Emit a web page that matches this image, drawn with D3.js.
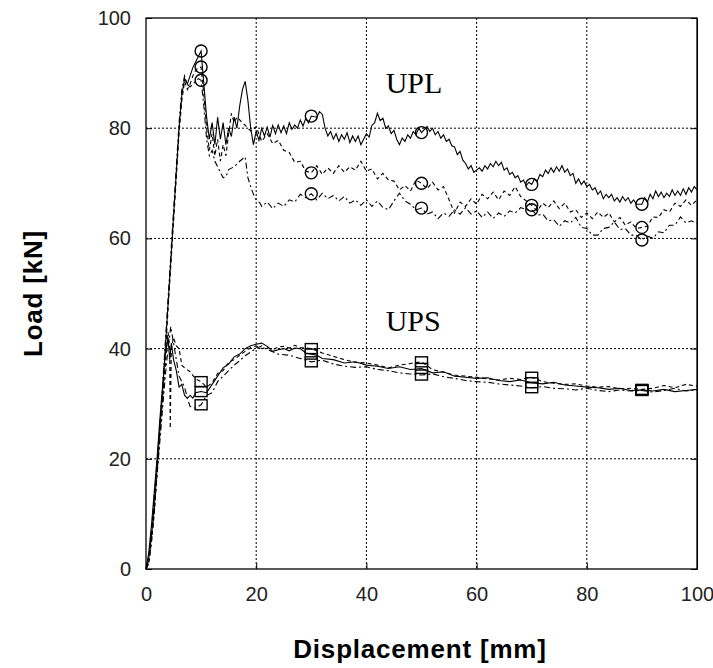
<!DOCTYPE html>
<html>
<head>
<meta charset="utf-8">
<script src="https://cdn.jsdelivr.net/npm/d3@7"></script>
<style>
  body { margin: 0; background: #fff; }
  svg text { font-family: "Liberation Sans", Arial, sans-serif; }
</style>
</head>
<body>
<div id="chart"></div>
<script>
// ticks
var xTicks = [0, 20, 40, 60, 80, 100];
var yTicks = [0, 20, 40, 60, 80, 100];
var markX = [10, 30, 50, 70, 90];

// UPL specimens (large)
var uplA = [[0,0],[0.5,2],[1,6],[1.5,11],[2,18],[2.5,25],[3,32],[3.5,40],[4,48],[4.5,56],[5,64],[5.5,72],[6,80],[6.5,86],[7,89],[7.5,88],[8,89.5],[8.5,91],[9,92],[9.5,93],[10,94],[10.5,88],[11,82],[11.5,78],[12,81],[12.5,77],[13,82],[13.5,78],[14,81],[14.5,77],[15,80],[15.5,78.5],[16,82],[16.5,80],[17,84],[17.5,87],[18,88.5],[18.5,85],[19,80],[19.5,77],[20,79.5],[20.5,77.8],[21,80],[21.5,78.6],[22,80.2],[22.5,78.4],[23,80.5],[23.5,79],[24,80.6],[24.5,79.2],[25,80.4],[25.5,79],[26,81],[26.5,79.8],[27,80.6],[27.5,80],[28,81.5],[28.5,80.4],[29,81.8],[29.5,81],[30,82.2],[31,82],[31.5,83],[32,82.5],[32.5,80],[33,78.6],[33.5,79.4],[34,78],[34.5,79],[35,77.6],[35.5,78.8],[36,78],[36.5,79.2],[37,77.4],[37.5,78.6],[38,77.6],[38.5,78.6],[39,77],[39.5,78],[40,79],[40.5,78.4],[41,80.5],[41.5,81],[42,82.7],[42.5,81.4],[43,81.8],[43.5,80],[44,80.4],[44.5,79],[45,79.6],[45.5,78],[46,77],[46.5,78.2],[47,77.6],[47.5,78.8],[48,78.2],[48.5,79.4],[49,78.8],[49.5,80],[50,79.2],[51,80.3],[51.5,79.4],[52,80],[52.5,78.8],[53,79.4],[53.5,78.2],[54,78.8],[54.5,77.6],[55,78],[55.5,76.8],[56,76.6],[56.5,75.2],[57,75.8],[57.5,74.2],[58,73.6],[58.5,72.6],[59,73.2],[59.5,72],[60,72.4],[60.5,72.8],[61,72.2],[61.5,73.2],[62,72.6],[62.5,73.6],[63,73],[63.5,74],[64,73.2],[64.5,73.8],[65,72.4],[65.5,72.8],[66,71.6],[66.5,72],[67,71],[67.5,71.4],[68,70.2],[68.5,70.6],[69,69.6],[69.5,70.2],[70,69.8],[70.5,70.8],[71,70.4],[71.5,71.6],[72,71.2],[72.5,72.4],[73,71.8],[73.5,72.8],[74,72],[74.5,73],[75,72.2],[75.5,73.2],[76,72],[76.5,72.6],[77,71.4],[77.5,71.8],[78,70],[78.5,70.8],[79,69.8],[79.5,70.4],[80,69.4],[80.5,69.8],[81,68.8],[81.5,69.2],[82,68],[82.5,68.6],[83,67.2],[83.5,68],[84,67.4],[84.5,68],[85,66.8],[85.5,67.4],[86,66.6],[86.5,67.6],[87,66.8],[87.5,67.4],[88,66.4],[88.5,67],[89,66.2],[90,66.2],[90.5,67.4],[91,66.6],[91.5,68],[92,67.2],[92.5,68.6],[93,67.6],[93.5,68.4],[94,67.4],[94.5,68.2],[95,67.6],[95.5,68.8],[96,67.8],[96.5,68.6],[97,67.8],[97.5,69],[98,68],[98.5,69.2],[99,68.4],[99.5,69.4],[100,68.8]];
var uplB = [[0,0],[0.5,1],[1,5],[1.5,10],[2,17],[2.5,24],[3,31],[3.5,39],[4,47],[4.5,55],[5,63],[5.5,71],[6,79],[6.5,85],[7,88.5],[7.5,87],[8,88],[8.5,89.5],[9,90.5],[9.5,91],[10,91.1],[10.5,86],[11,80],[11.5,76],[12,79],[12.5,75],[13,78],[13.5,74],[14,77],[14.5,75],[15,79],[15.5,82.7],[16,81],[16.5,82],[17,81.5],[18,80.5],[19,79.5],[20,80.3],[21,77.6],[22,79],[23,77.2],[24,77.8],[25,76],[26,75.6],[27,73.8],[28,74],[29,72.2],[30,71.9],[31,73.2],[32,71.6],[33,72.8],[34,71.8],[35,73.2],[36,72],[37,73],[38,72.4],[39,74],[40,72.2],[41,72.6],[42,70.8],[43,71.8],[44,70.6],[45,70.4],[46,68.8],[47,69.6],[48,68.6],[49,70.6],[50,70],[51,69],[52,70.2],[53,68.8],[54,69.4],[55,67],[56,64.6],[57,66.6],[58,65.8],[59,67.2],[60,66.2],[61,68],[62,67.2],[63,68.4],[64,67],[65,68.6],[66,67.8],[67,69.4],[68,67.6],[69,66.8],[70,66],[71,65],[72,66.4],[73,65.6],[74,66.8],[75,65.4],[76,66.4],[77,64.8],[78,65.2],[79,63.8],[80,64.6],[81,63.6],[82,64.8],[83,63.8],[84,64.6],[85,63],[86,63.8],[87,62.4],[88,63],[89,61.8],[90,62],[91,62.2],[92,63.9],[93,63.8],[94,65.2],[95,64.8],[96,66.4],[97,65.8],[98,67],[99,66],[100,67]];
var uplC = [[0,0],[0.5,1.5],[1,6],[1.5,12],[2,19],[2.5,26],[3,33],[3.5,41],[4,49],[4.5,57],[5,65],[5.5,73],[6,81],[6.5,87],[7,89.5],[7.5,88],[8,87.5],[8.5,88],[9,88.5],[9.5,89],[10,88.7],[10.5,84],[11,78],[11.5,75],[12,76],[12.5,74],[13,73],[13.5,72],[14,71],[14.5,71.2],[15,72.5],[16,73],[17,74],[18,74.8],[18.5,71],[19,69.4],[19.5,68],[20,67],[20.7,66.4],[21,65.8],[22,66.6],[23,65.4],[24,66.4],[25,65.8],[26,67],[27,66.6],[28,68],[29,67.4],[30,68.1],[31,67],[32,68.2],[33,67.2],[34,67.8],[35,66.8],[36,67.6],[37,66.4],[38,67],[39,66],[40,67],[41,65.8],[42,66.8],[43,65.6],[44,65.2],[45,66.8],[46,68.2],[47,66.8],[48,66.2],[49,65.2],[50,65.5],[51,64.4],[52,64.8],[53,63.6],[54,64.6],[55,64],[56,65.2],[57,64.4],[58,65.6],[59,64.4],[60,65],[61,63.8],[62,64.8],[63,63.6],[64,64.6],[65,64],[66,65],[67,64.6],[68,65.6],[69,65.2],[70,65.2],[71,64.2],[72,64.4],[73,63.2],[74,63.4],[75,62.2],[76,63.2],[77,62.8],[78,63.8],[79,62],[80,61.8],[81,60.6],[82,60.6],[83,61.8],[84,62],[85,63],[86,61.6],[87,61.8],[88,60.6],[89,60.6],[90,59.7],[91,60.4],[92,60],[93,61.2],[94,61],[95,62.4],[96,62.4],[97,63.9],[98,62.8],[99,63.2],[100,62.6]];

// UPS specimens (small)
var upsA = [[0,0],[0.5,3],[1,8],[1.5,14],[2,20],[2.5,27],[3,33],[3.5,39],[4,42],[4.3,38],[4.6,41],[5,38],[5.5,36],[6,33],[6.5,33.5],[7,31.5],[7.5,31],[8,31.5],[8.5,31],[9,32],[10,32.2],[11,32],[12,33.5],[13,35],[14,36.5],[15,37.2],[16,38.5],[17,39],[18,40],[19,40.5],[20,40.8],[21,41],[22,40.4],[23,39.5],[24,39.8],[25,40],[26,39.6],[27,40.1],[28,40],[29,39.2],[30,39],[31,38.8],[32,38.2],[34,38],[36,37.4],[38,37.6],[40,37],[42,36.8],[44,36.4],[46,36.7],[48,36.2],[50,36.4],[52,35.6],[54,35.8],[56,35],[58,34.8],[60,34.6],[62,34.7],[64,34.2],[66,34],[68,34.3],[70,33.8],[72,33.6],[74,33.9],[76,33.4],[78,33.2],[80,33],[82,32.9],[84,32.6],[86,32.8],[88,32.4],[90,32.5],[92,32.3],[94,32.6],[96,32.2],[98,32.4],[100,32.6]];
var upsB = [[0,0],[0.5,2],[1,7],[1.5,13],[2,19],[2.5,25],[3,31],[3.5,37],[4,43],[4.3,40],[4.4,25.5],[4.6,40],[5,42],[5.5,40.5],[6,40],[6.5,37],[7,36.5],[8,35.8],[9,34.5],[10,34],[11,33],[12,33.8],[13,35.5],[14,36],[15,37.5],[16,38],[17,38.8],[18,39.5],[19,40.2],[20,40.5],[21,40],[22,40.2],[23,39.8],[24,40.3],[25,40.4],[26,40.1],[27,40.6],[28,40.2],[30,40],[32,39.2],[34,38.6],[36,38],[38,37.5],[40,37.4],[42,37],[44,36.5],[46,37],[48,37.3],[50,37.6],[52,36.2],[54,35.7],[56,35.2],[58,35],[60,34.8],[62,34.5],[64,34.3],[66,34.6],[68,34.4],[70,34.8],[72,34],[74,33.7],[76,33.5],[78,33.6],[80,33.2],[82,33],[84,33.1],[86,32.7],[88,32.8],[90,32.6],[92,32.8],[94,33.3],[96,32.9],[98,33.5],[100,33.2]];
var upsC = [[0,0],[0.5,1],[1,5],[1.5,11],[2,17],[2.5,23],[3,29],[3.5,35],[4,40],[4.5,44],[5,41],[5.5,38],[6,35],[6.5,34],[7,33],[7.5,31],[8,29.5],[9,29.2],[10,29.8],[11,31.5],[12,32],[13,34],[14,35],[15,36],[16,37],[17,37.8],[18,38.7],[19,39.4],[20,40],[21,40.5],[22,39.8],[24,39],[26,38.8],[28,38.2],[30,37.6],[32,37.9],[34,37.2],[36,36.8],[38,36.6],[40,36.7],[42,36.2],[44,36],[46,35.6],[48,35.4],[50,35.2],[52,35.4],[54,34.9],[56,34.6],[58,34.2],[60,34],[62,33.9],[64,33.6],[66,33.4],[68,33.2],[70,32.9],[72,33.1],[74,32.8],[76,32.7],[78,32.5],[80,32.8],[82,32.4],[84,32.2],[86,32.5],[88,32.3],[90,32.4],[92,32.1],[94,32.4],[96,32.8],[98,32.3],[100,32.5]];

var margin = {top:18, left:146, right:16, bottom:99},
  width = 713 - margin.left - margin.right,
  height = 668 - margin.top - margin.bottom;

var svg = d3.select("#chart")
  .append("svg")
  .attr("width", 713)
  .attr("height", 668)
  .append("g")
  .attr("transform", "translate(" + margin.left + "," + margin.top + ")");

var x = d3.scaleLinear().domain([0, 100]).range([0, width]);
var y = d3.scaleLinear().domain([0, 100]).range([height, 0]);

// dotted grid
svg.selectAll(".gx")
  .data(xTicks.slice(1, -1))
  .enter().append("line")
  .attr("x1", function(d){ return x(d) }).attr("x2", function(d){ return x(d) })
  .attr("y1", 0).attr("y2", height)
  .attr("stroke", "#000").attr("stroke-dasharray", "2,2");

svg.selectAll(".gy")
  .data(yTicks.slice(1, -1))
  .enter().append("line")
  .attr("y1", function(d){ return y(d) }).attr("y2", function(d){ return y(d) })
  .attr("x1", 0).attr("x2", width)
  .attr("stroke", "#000").attr("stroke-dasharray", "2,2");

// axes with inward ticks
var xAxis = svg.append("g")
  .attr("transform", "translate(0," + height + ")")
  .call(d3.axisBottom(x).tickValues(xTicks).tickSizeInner(-6).tickSizeOuter(0).tickPadding(18));
var yAxis = svg.append("g")
  .call(d3.axisLeft(y).tickValues(yTicks).tickSizeInner(-6).tickSizeOuter(0).tickPadding(15));
svg.append("g")
  .attr("transform", "translate(" + width + ",0)")
  .call(d3.axisRight(y).tickValues(yTicks).tickSizeInner(-6).tickSizeOuter(0).tickFormat(""));

[xAxis, yAxis].forEach(function(a){
  a.select(".domain").remove();
  a.selectAll("text")
    .style("font-family", "'Liberation Sans', Arial, sans-serif")
    .style("font-size", "20px")
    .attr("fill", "#222");
});

svg.append("rect")
  .attr("width", width).attr("height", height)
  .attr("fill", "none").attr("stroke", "#000").attr("stroke-width", 1.3);

// curves
var line = d3.line()
  .x(function(d){ return x(d[0]) })
  .y(function(d){ return y(d[1]) });

var series = [
  {data: uplA, dash: null, mark: "circle"},
  {data: uplB, dash: "4,3", mark: "circle"},
  {data: uplC, dash: "6,3,2,3", mark: "circle"},
  {data: upsA, dash: null, mark: "square"},
  {data: upsB, dash: "4,3", mark: "square"},
  {data: upsC, dash: "6,3,2,3", mark: "square"}
];

svg.selectAll(".curve")
  .data(series)
  .enter().append("path")
  .attr("class", "curve")
  .attr("d", function(d){ return line(d.data) })
  .attr("fill", "none")
  .attr("stroke", "#000")
  .attr("stroke-width", 1.1)
  .attr("stroke-dasharray", function(d){ return d.dash });

// markers at fixed displacements
series.forEach(function(s){
  var pts = s.data.filter(function(p){ return markX.indexOf(p[0]) >= 0 });
  if (s.mark === "circle") {
    svg.selectAll(null)
      .data(pts)
      .enter().append("circle")
      .attr("cx", function(d){ return x(d[0]) })
      .attr("cy", function(d){ return y(d[1]) })
      .attr("r", 6)
      .attr("fill", "none").attr("stroke", "#000").attr("stroke-width", 1.4);
  } else {
    svg.selectAll(null)
      .data(pts)
      .enter().append("rect")
      .attr("x", function(d){ return x(d[0]) - 6 })
      .attr("y", function(d){ return y(d[1]) - 5 })
      .attr("width", 12).attr("height", 10)
      .attr("fill", "none").attr("stroke", "#000").attr("stroke-width", 1.4);
  }
});

// group labels
svg.append("text")
  .attr("x", x(43.5)).attr("y", y(86.3))
  .style("font-family", "'Liberation Serif', 'Times New Roman', serif")
  .style("font-size", "30px")
  .text("UPL");
svg.append("text")
  .attr("x", x(43.5)).attr("y", y(43.2))
  .style("font-family", "'Liberation Serif', 'Times New Roman', serif")
  .style("font-size", "30px")
  .text("UPS");

// axis titles
svg.append("text")
  .attr("x", 274).attr("y", height + 89)
  .attr("text-anchor", "middle")
  .style("font-size", "26px").style("font-weight", "bold")
  .style("letter-spacing", "0.8px")
  .text("Displacement [mm]");
svg.append("text")
  .attr("transform", "translate(" + (-104) + "," + (height / 2) + ") rotate(-90)")
  .attr("text-anchor", "middle")
  .style("font-size", "26px").style("font-weight", "bold")
  .style("letter-spacing", "0.8px")
  .text("Load [kN]");
</script>
</body>
</html>
